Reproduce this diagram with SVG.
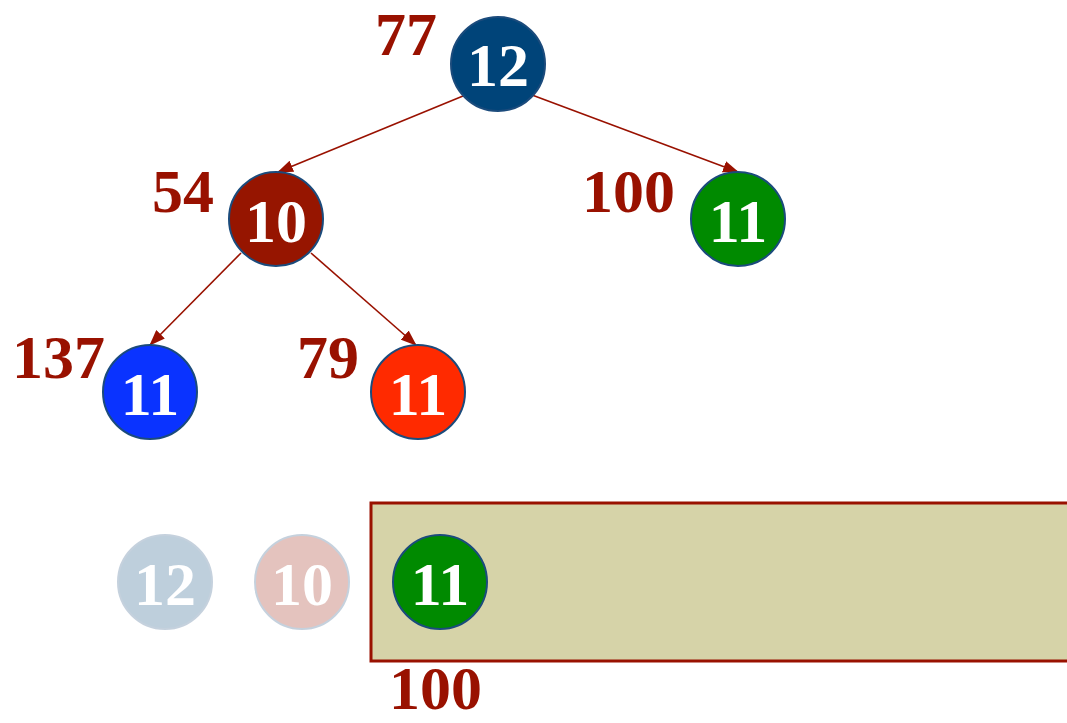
<svg xmlns="http://www.w3.org/2000/svg" width="1067" height="723" viewBox="0 0 1067 723">
  <defs>
    <marker id="arrow" markerWidth="16" markerHeight="12" refX="15" refY="6" orient="auto" markerUnits="userSpaceOnUse">
      <path d="M0,0 L16,6 L0,12 Z" fill="#991100"/>
    </marker>
    <style>
      .edge { stroke: #991100; stroke-width: 1.6; fill: none; }
      .node circle { stroke: #1b4b7c; stroke-width: 2; }
      .num { font-family: "Liberation Serif", "Times New Roman", serif; font-weight: bold; font-size: 62px; fill: #ffffff; text-anchor: middle; }
      .lbl { font-family: "Liberation Serif", "Times New Roman", serif; font-weight: bold; font-size: 62px; fill: #991100; }
    </style>
  </defs>
  <rect width="1067" height="723" fill="#ffffff"/>

  <!-- buffer strip -->
  <rect id="buffer" x="371" y="503" width="710" height="158" fill="#d6d3a8" stroke="#991100" stroke-width="3"/>

  <g id="connectors">
    <line class="edge" x1="463" y1="96" x2="278" y2="172" marker-end="url(#arrow)"/>
    <line class="edge" x1="532" y1="95" x2="738" y2="172" marker-end="url(#arrow)"/>
    <line class="edge" x1="241" y1="253" x2="150" y2="345" marker-end="url(#arrow)"/>
    <line class="edge" x1="311" y1="253" x2="416" y2="345" marker-end="url(#arrow)"/>
  </g>

  <g id="n-root" class="node">
    <circle cx="498" cy="64" r="47" fill="#004479"/>
    <text class="num" x="498" y="86">12</text>
  </g>
  <text class="lbl" x="375" y="55">77</text>

  <g id="n-left" class="node">
    <circle cx="276" cy="219" r="47" fill="#961500"/>
    <text class="num" x="276" y="242">10</text>
  </g>
  <text class="lbl" x="152" y="212">54</text>

  <g id="n-right" class="node">
    <circle cx="738" cy="219" r="47" fill="#008a00"/>
    <text class="num" x="738" y="242">11</text>
  </g>
  <text class="lbl" x="582" y="212">100</text>

  <g id="n-ll" class="node">
    <circle cx="150" cy="392" r="47" fill="#0a33ff"/>
    <text class="num" x="150" y="415">11</text>
  </g>
  <text class="lbl" x="12" y="378">137</text>

  <g id="n-lr" class="node">
    <circle cx="418" cy="392" r="47" fill="#ff2a00"/>
    <text class="num" x="418" y="415">11</text>
  </g>
  <text class="lbl" x="297" y="378">79</text>

  <g id="q-12" class="node" opacity="0.25">
    <circle cx="165" cy="582" r="47" fill="#004479"/>
    <text class="num" x="165" y="605">12</text>
  </g>

  <g id="q-10" class="node" opacity="0.25">
    <circle cx="302" cy="582" r="47" fill="#961500"/>
    <text class="num" x="302" y="605">10</text>
  </g>

  <g id="q-11" class="node">
    <circle cx="440" cy="582" r="47" fill="#008a00"/>
    <text class="num" x="440" y="605">11</text>
  </g>
  <text class="lbl" x="389" y="709">100</text>
</svg>
